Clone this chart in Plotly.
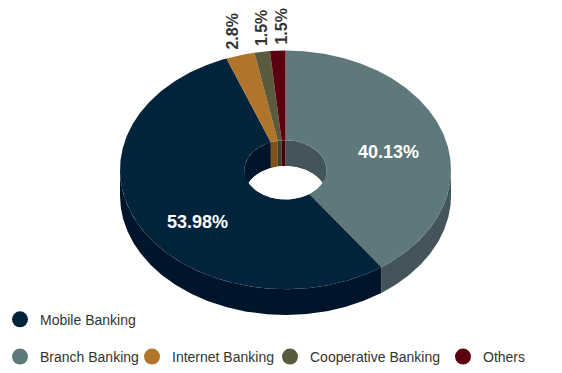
import numpy as np
import plotly.graph_objects as go

# Channel shares (percent), in clockwise drawing order starting at 12 o'clock
channels = ["Branch Banking", "Mobile Banking", "Internet Banking", "Cooperative Banking", "Others"]
shares = [40.13, 53.98, 2.8, 1.5, 1.5]
share_labels = ["40.13%", "53.98%", "2.8%", "1.5%", "1.5%"]
legend_order = ["Mobile Banking", "Branch Banking", "Internet Banking", "Cooperative Banking", "Others"]

top_colors = {
    "Branch Banking": "#5f787b",
    "Mobile Banking": "#02233c",
    "Internet Banking": "#b0742a",
    "Cooperative Banking": "#5a5a3e",
    "Others": "#5c0010",
}
side_colors = {
    "Branch Banking": "#43545a",
    "Mobile Banking": "#00152a",
    "Internet Banking": "#7e521c",
    "Cooperative Banking": "#3e3e2a",
    "Others": "#3f000b",
}

W, H = 562, 373
CX, CY = 285.5, 178.0      # centre of the top face
RX, RY = 165.5, 125.0      # outer ellipse radii
HX, HY = 41.0, 31.0        # hole ellipse radii
DEPTH = 27.0               # thickness of the disc
FONT = "Liberation Sans, Arial, sans-serif"

# legend entry placement (pixel x of the entry box, pixel y of the row)
LEGEND_SLOTS = {
    "Mobile Banking": (0, 324),
    "Branch Banking": (0, 363),
    "Internet Banking": (132, 363),
    "Cooperative Banking": (270, 363),
    "Others": (443, 363),
}
LEGEND_DY = 11


def ell(theta, rx, ry, dy=0.0):
    t = np.radians(theta)
    return CX + rx * np.sin(t), CY - ry * np.cos(t) + dy


def arc(a0, a1, rx, ry, dy=0.0, n=None):
    n = n or max(int(abs(a1 - a0) * 2) + 2, 4)
    th = np.linspace(a0, a1, n)
    return ell(th, rx, ry, dy)


def overlap(a0, a1, b0, b1):
    lo, hi = max(a0, b0), min(a1, b1)
    return (lo, hi) if hi > lo else None


def poly(xs, ys, color):
    return go.Scatter(x=list(xs), y=list(ys), mode="lines", fill="toself",
                      fillcolor=color, line=dict(width=0), hoverinfo="skip",
                      showlegend=False)


total = sum(shares)
bounds = np.concatenate([[0.0], np.cumsum(shares) / total * 360.0])
slices = [(channels[i], bounds[i], bounds[i + 1]) for i in range(len(channels))]

fig = go.Figure()

# outer wall, visible on the front half
for name, a0, a1 in slices:
    seg = overlap(a0, a1, 90, 270)
    if seg:
        x1, y1 = arc(seg[0], seg[1], RX, RY)
        x2, y2 = arc(seg[1], seg[0], RX, RY, DEPTH)
        fig.add_trace(poly(np.r_[x1, x2], np.r_[y1, y2], side_colors[name]))

# inner wall of the hole, visible on the back half
for name, a0, a1 in slices:
    for b0, b1 in ((0, 90), (270, 360)):
        seg = overlap(a0, a1, b0, b1)
        if seg:
            x1, y1 = arc(seg[0], seg[1], HX, HY)
            x2, y2 = arc(seg[1], seg[0], HX, HY, DEPTH)
            fig.add_trace(poly(np.r_[x1, x2], np.r_[y1, y2], side_colors[name]))

# top faces
for name, a0, a1 in slices:
    x1, y1 = arc(a0, a1, RX, RY)
    x2, y2 = arc(a1, a0, HX, HY)
    fig.add_trace(poly(np.r_[x1, x2], np.r_[y1, y2], top_colors[name]))

# see-through part of the hole: hole ellipse intersected with its lowered copy
xi = HX * np.sqrt(1 - (DEPTH / (2 * HY)) ** 2)
xs = np.linspace(-xi, xi, 120)
lower = CY + HY * np.sqrt(np.clip(1 - (xs / HX) ** 2, 0, 1))
upper = CY + DEPTH - HY * np.sqrt(np.clip(1 - (xs / HX) ** 2, 0, 1))
fig.add_trace(poly(np.r_[CX + xs, CX + xs[::-1]], np.r_[upper, lower[::-1]], "white"))

# value labels
inside_nudge = {"Branch Banking": (1, 6), "Mobile Banking": (7, 16)}
outside_nudge = {"Internet Banking": -8, "Cooperative Banking": 0, "Others": 4}
for (name, a0, a1), lab in zip(slices, share_labels):
    mid = (a0 + a1) / 2
    if name in inside_nudge:
        dx, dy = inside_nudge[name]
        x, y = ell(mid, RX * 0.65, RY * 0.65)
        fig.add_annotation(x=x + dx, y=y + dy, text=lab, showarrow=False,
                           font=dict(family=FONT, size=18, color="white", weight="bold"))
    else:
        x, y = ell(mid, RX, RY)
        fig.add_annotation(x=x + outside_nudge[name], y=y - 4, text=lab, showarrow=False,
                           textangle=-90, xanchor="center", yanchor="bottom",
                           font=dict(family=FONT, size=16, color="#333333", weight="bold"))

# legend: one single-entry legend per item so the rows keep their spacing
legend_layout = {}
for i, name in enumerate(legend_order):
    key = "legend" if i == 0 else f"legend{i + 1}"
    fig.add_trace(go.Scatter(
        x=[None], y=[None], mode="markers", name=name, legend=key,
        marker=dict(symbol="circle", size=16, color=top_colors[name]),
    ))
    px, py = LEGEND_SLOTS[name]
    legend_layout[key] = dict(
        orientation="h", xanchor="left", yanchor="middle",
        x=px / W, y=1 - (py + LEGEND_DY) / H,
        bgcolor="rgba(0,0,0,0)", itemclick=False, itemdoubleclick=False,
        font=dict(family=FONT, size=14, color="#333333"),
    )

fig.update_layout(
    width=W, height=H,
    margin=dict(l=0, r=0, t=0, b=0),
    paper_bgcolor="white", plot_bgcolor="white",
    xaxis=dict(range=[0, W], visible=False, fixedrange=True),
    yaxis=dict(range=[H, 0], visible=False, fixedrange=True),
    font=dict(family=FONT),
    **legend_layout,
)

fig.write_html("out.html")
